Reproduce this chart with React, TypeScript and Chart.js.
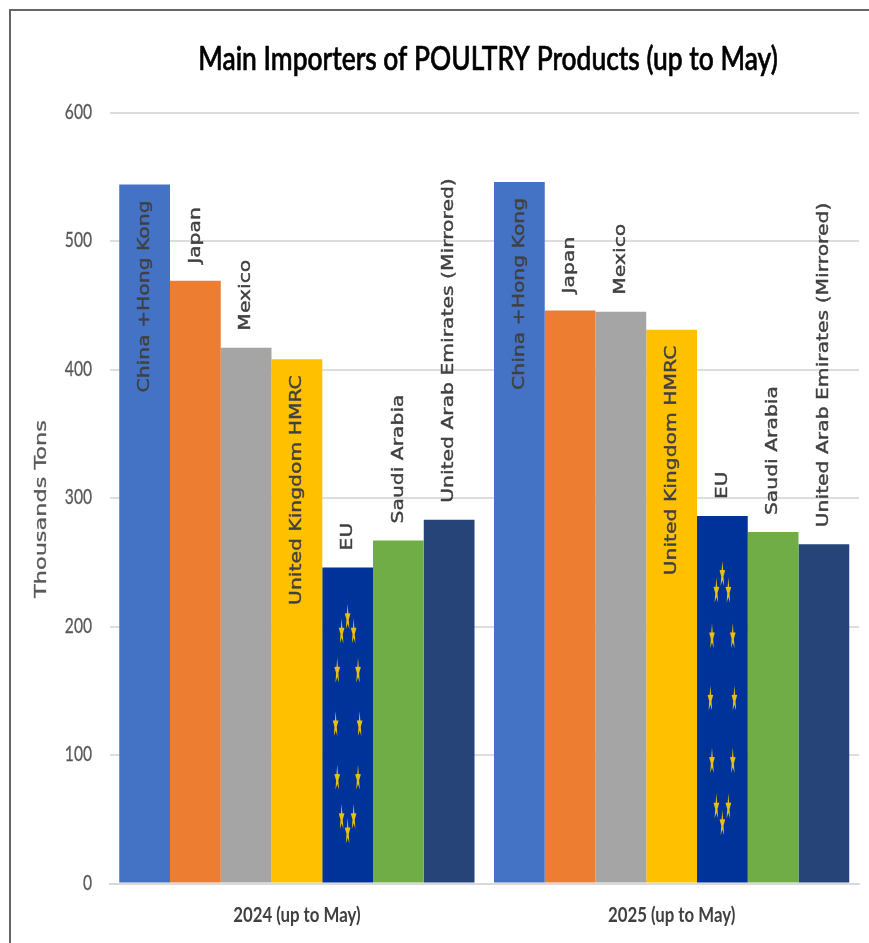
import React, { useEffect, useRef } from "react";
import { Chart, registerables } from "chart.js";

Chart.register(...registerables);

const periods = ["2024 (up to May)", "2025 (up to May)"];
const importers = [
  "China +Hong Kong",
  "Japan",
  "Mexico",
  "United Kingdom HMRC",
  "EU",
  "Saudi Arabia",
  "United Arab Emirates (Mirrored)",
];
const china = [544, 546];
const japan = [469, 446];
const mexico = [417, 445];
const uk = [408, 431];
const eu = [246, 286];
const saudi = [267, 273.5];
const uae = [283, 264];
const seriesValues = [china, japan, mexico, uk, eu, saudi, uae];
const colors = ["#4472C4", "#ED7D31", "#A5A5A5", "#FFC000", "#003399", "#70AD47", "#264478"];
const labelsInside = ["China +Hong Kong", "United Kingdom HMRC"];
const euLabel = "EU";
const yTitle = "Thousands Tons";
const chartTitle = "Main Importers of POULTRY Products (up to May)";

const CAL = 'Lato, "Open Sans", sans-serif';

function squeezed(ctx: any, text: string, x: number, y: number, font: string, color: string, sx: number, align: string, stroke: number) {
  ctx.save();
  ctx.translate(x, y);
  ctx.scale(sx, 1);
  ctx.font = font;
  ctx.fillStyle = color;
  ctx.strokeStyle = color;
  ctx.lineWidth = stroke;
  ctx.textAlign = align;
  ctx.textBaseline = "middle";
  ctx.fillText(text, 0, 0);
  if (stroke > 0) ctx.strokeText(text, 0, 0);
  ctx.restore();
}

const decorPlugin = {
  id: "decor",
  afterDraw(chart: any) {
    const ctx = chart.ctx;
    squeezed(ctx, chartTitle, 488, 59, `500 33px ${CAL}`, "#000000", 0.8, "center", 0.7);
    const y = chart.scales.y;
    y.ticks.forEach((t: any) => {
      squeezed(ctx, String(t.value), 92, y.getPixelForValue(t.value) - 1, `22px ${CAL}`, "#595959", 0.71, "right", 0.3);
    });
    const x = chart.scales.x;
    periods.forEach((p, i) => {
      squeezed(ctx, p, x.getPixelForValue(i), 916, `bold 20px ${CAL}`, "#404040", 0.84, "center", 0);
    });
    ctx.save();
    ctx.translate(42, 509);
    ctx.rotate(-Math.PI / 2);
    ctx.scale(1.4, 1);
    ctx.font = '16px "DejaVu Sans"';
    ctx.fillStyle = "#595959";
    ctx.strokeStyle = "#595959";
    ctx.lineWidth = 0.3;
    ctx.textAlign = "center";
    ctx.textBaseline = "middle";
    ctx.fillText(yTitle, 0, 0);
    ctx.strokeText(yTitle, 0, 0);
    ctx.restore();
  },
  afterDatasetsDraw(chart: any) {
    const ctx = chart.ctx;
    chart.data.datasets.forEach((ds: any, di: number) => {
      const meta = chart.getDatasetMeta(di);
      meta.data.forEach((bar: any) => {
        const inside = labelsInside.includes(ds.label);
        const h = bar.base - bar.y;
        if (ds.label === euLabel) {
          ctx.save();
          ctx.fillStyle = "#E8C010";
          for (let i = 0; i < 12; i++) {
            const a = (i * Math.PI) / 6;
            const sx = bar.x + 12 * Math.sin(a);
            const sy = bar.y + h * 0.5 - 0.34 * h * Math.cos(a);
            ctx.beginPath();
            for (let k = 0; k < 10; k++) {
              const r = k % 2 === 0 ? 1 : 0.4;
              const t = (k * Math.PI) / 5;
              const px = sx + 3 * r * Math.sin(t);
              const py = sy - 14 * r * Math.cos(t);
              if (k === 0) ctx.moveTo(px, py);
              else ctx.lineTo(px, py);
            }
            ctx.closePath();
            ctx.fill();
          }
          ctx.restore();
        }
        ctx.save();
        ctx.translate(bar.x, inside ? bar.y + 16 : bar.y - 17);
        ctx.rotate(-Math.PI / 2);
        ctx.scale(1.27, 1);
        ctx.font = '16px "DejaVu Sans"';
        ctx.fillStyle = "#404040";
        ctx.strokeStyle = "#404040";
        ctx.lineWidth = 0.4;
        ctx.textBaseline = "middle";
        ctx.textAlign = inside ? "right" : "left";
        ctx.fillText(ds.label, 0, 0);
        ctx.strokeText(ds.label, 0, 0);
        ctx.restore();
      });
    });
  },
};

export default function App() {
  const ref = useRef<HTMLCanvasElement>(null);
  useEffect(() => {
    const chart = new Chart(ref.current!, {
      type: "bar",
      data: {
        labels: periods,
        datasets: importers.map((label, i) => ({
          label,
          data: seriesValues[i],
          backgroundColor: colors[i],
          categoryPercentage: 0.948,
          barPercentage: 1,
        })),
      },
      options: {
        animation: false,
        responsive: false,
        layout: { padding: { left: 109.5, right: 10, top: 112.5, bottom: 59.5 } },
        plugins: {
          legend: { display: false },
          tooltip: { enabled: false },
          title: { display: false },
        },
        scales: {
          x: {
            grid: { display: false, drawTicks: false },
            border: { color: "#D9D9D9", width: 2 },
            ticks: { display: false },
          },
          y: {
            min: 0,
            max: 600,
            ticks: { stepSize: 100, display: false },
            grid: { color: "#DDDDDD", lineWidth: 2, drawTicks: false },
            border: { display: false },
            title: { display: false },
          },
        },
      },
      plugins: [decorPlugin],
    });
    return () => chart.destroy();
  }, []);
  return (
    <div style={{ position: "fixed", left: 0, top: 0, width: 869, height: 943, background: "#fff", overflow: "hidden" }}>
      <div style={{ position: "absolute", left: 9, top: 9, width: 860, height: 934, borderLeft: "2px solid #666", borderTop: "2px solid #666", boxSizing: "border-box" }} />
      <canvas ref={ref} width={869} height={943} style={{ position: "absolute", left: 0, top: 0, filter: "blur(0.5px)" }} />
    </div>
  );
}
